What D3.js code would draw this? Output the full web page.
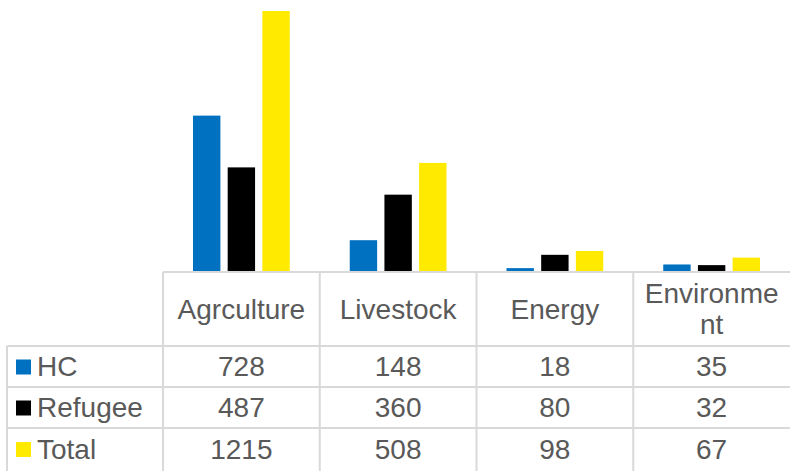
<!DOCTYPE html>
<meta charset="utf-8">
<style>
body { margin: 0; background: #fff; }
svg { font-family: "Liberation Sans", Arial, sans-serif; }
.grid line { stroke: #d9d9d9; stroke-width: 2; }
text { fill: #595959; font-size: 28px; }
</style>
<body>
<script src="https://cdn.jsdelivr.net/npm/d3@7"></script>
<script>
var categories = ["Agrculture", "Livestock", "Energy", "Environment"];
var headerLines = [["Agrculture"], ["Livestock"], ["Energy"], ["Environme", "nt"]];
var series = ["HC", "Refugee", "Total"];
var colors = ["#0070c0", "#000000", "#ffea00"];
var hc = [728, 148, 18, 35];
var refugee = [487, 360, 80, 32];
var total = [1215, 508, 98, 67];
var values = [hc, refugee, total];

var width = 790, height = 471;
var plotLeft = 163, plotRight = 790, base = 272, plotTop = 11;
var rowTops = [346, 387, 428, 470];

var svg = d3.select("body").append("svg")
  .attr("width", width)
  .attr("height", height);

var x = d3.scaleBand().domain(categories).range([plotLeft, plotRight]);
var xs = d3.scaleBand().domain(series).range([30, x.bandwidth() - 30]).paddingInner(0.21);
var y = d3.scaleLinear().domain([0, 1215]).range([base, plotTop]);

// bars
series.forEach(function (s, i) {
  svg.append("g").selectAll("rect")
    .data(values[i])
    .enter().append("rect")
    .attr("x", function (d, j) { return x(categories[j]) + xs(s); })
    .attr("width", xs.bandwidth())
    .attr("y", function (d) { return y(d); })
    .attr("height", function (d) { return base - y(d); })
    .attr("fill", colors[i]);
});

// table grid
var grid = svg.append("g").attr("class", "grid");
grid.append("line").attr("x1", plotLeft).attr("x2", plotRight).attr("y1", base).attr("y2", base);
rowTops.slice(0, 3).forEach(function (r) {
  grid.append("line").attr("x1", 7).attr("x2", plotRight).attr("y1", r).attr("y2", r);
});
grid.append("line").attr("x1", 7).attr("x2", 7).attr("y1", rowTops[0]).attr("y2", height);
categories.forEach(function (c) {
  grid.append("line").attr("x1", x(c)).attr("x2", x(c)).attr("y1", base).attr("y2", height);
});

// header
categories.forEach(function (c, j) {
  var lines = headerLines[j];
  var cy = (base + rowTops[0]) / 2;
  lines.forEach(function (t, k) {
    svg.append("text")
      .attr("x", x(c) + x.bandwidth() / 2)
      .attr("y", cy + (k - (lines.length - 1) / 2) * 31)
      .attr("dy", "0.35em")
      .attr("text-anchor", "middle")
      .text(t);
  });
});

// rows
series.forEach(function (s, i) {
  var cy = (rowTops[i] + rowTops[i + 1]) / 2;
  svg.append("rect")
    .attr("x", 16).attr("y", cy - 7)
    .attr("width", 15).attr("height", 15)
    .attr("fill", colors[i]);
  svg.append("text")
    .attr("x", 37).attr("y", cy).attr("dy", "0.35em")
    .text(s);
  values[i].forEach(function (v, j) {
    svg.append("text")
      .attr("x", x(categories[j]) + x.bandwidth() / 2)
      .attr("y", cy).attr("dy", "0.35em")
      .attr("text-anchor", "middle")
      .text(v);
  });
});
</script>
